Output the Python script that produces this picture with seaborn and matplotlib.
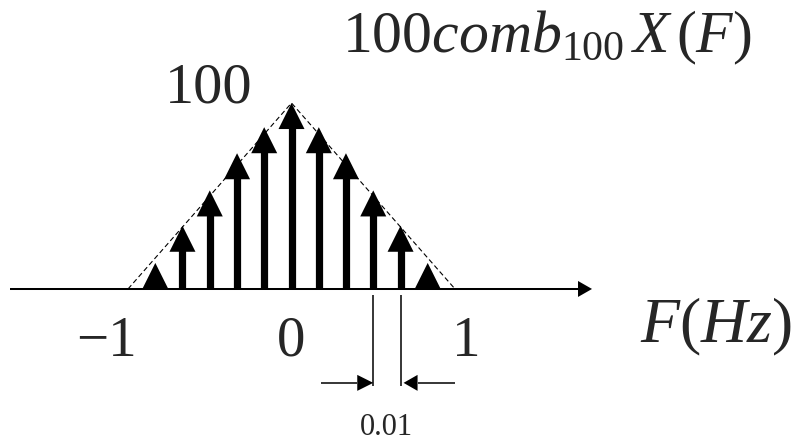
import numpy as np
import pandas as pd
import seaborn as sns
import matplotlib
matplotlib.use("Agg")
import matplotlib.pyplot as plt
from matplotlib.patches import Polygon

# Impulse train (sampled spectrum) and its triangular envelope
impulse_freq = [-0.833, -0.667, -0.5, -0.333, -0.167, 0.0, 0.167, 0.333, 0.5, 0.667, 0.833]
impulse_height = [14, 34, 53, 73, 87, 100, 87, 73, 53, 34, 14]
envelope_freq = [-1.0, 0.0, 1.0, -1.0]
envelope_height = [0, 100, 0, 0]
tick_values = [-1, 0, 1]
tick_labels = ["\u22121", "0", "1"]
peak_label = "100"
spacing_label = "0.01"
title_text = r"$100comb_{100}\,X\,(F)$"
axis_text = r"$F(Hz)$"

sns.set_theme(style="white")
plt.rcParams["font.family"] = ["Liberation Serif", "DejaVu Serif"]
plt.rcParams["mathtext.fontset"] = "custom"
plt.rcParams["mathtext.rm"] = "Liberation Serif"
plt.rcParams["mathtext.it"] = "Liberation Serif:italic"

fig = plt.figure(figsize=(7.99, 4.42), dpi=100)
ax = fig.add_axes([0, 0, 1, 1])
ax.set_xlim(-1.783, 3.104)
ax.set_ylim(-82.3, 155.4)
ax.axis("off")

# pixel -> data scale factors
px_x = 1 / 163.5
px_y = 1 / 1.86

def arrow(x0, x1, y, head_len, head_half, lw):
    direction = np.sign(x1 - x0)
    base = x1 - direction * head_len
    ax.plot([x0, base], [y, y], color="black", lw=lw, solid_capstyle="butt")
    ax.add_patch(Polygon([(base, y - head_half), (base, y + head_half), (x1, y)],
                         closed=True, color="black", lw=0))

# frequency axis
arrow(-1.722, 1.838, 0, 14 * px_x, 8 * px_y, 1.45)

# dashed triangular envelope
env = pd.DataFrame({"F": envelope_freq, "A": envelope_height})
sns.lineplot(data=env, x="F", y="A", sort=False, estimator=None, ax=ax,
             color="black", lw=0.8, linestyle=(0, (4.5, 2.7)))

# impulses: stems + filled arrow heads
head_h = 14
head_hw = 13 * px_x
for f, h in zip(impulse_freq, impulse_height):
    if h > head_h:
        ax.vlines(f, 0, h - head_h + 1, color="black", lw=5.2)
    ax.add_patch(Polygon([(f - head_hw, h - head_h), (f + head_hw, h - head_h), (f, h)],
                         closed=True, color="black", lw=0))

# spacing marker between two neighbouring impulses
fa, fb = impulse_freq[8], impulse_freq[9]
ax.vlines([fa, fb], -52, -3.5, color="black", lw=1.1)
arrow(fa - 52 * px_x, fa, -50.5, 16 * px_x, 8 * px_y, 1.1)
arrow(fb + 54 * px_x, fb + 3 * px_x, -50.5, 14 * px_x, 8 * px_y, 1.1)
ax.text((fa + fb) / 2, -78.3, spacing_label, ha="center", va="baseline", fontsize=22)

# tick labels
tick_shift = {-1: -0.13, 0: 0.0, 1: 0.067}
for v, lab in zip(tick_values, tick_labels):
    ax.text(v + tick_shift[v], -36, lab, ha="center", va="baseline", fontsize=41)

# annotations
ax.text(-0.509, 100.5, peak_label, ha="center", va="baseline", fontsize=42)
ax.text(0.309, 127.4, title_text, ha="left", va="baseline", fontsize=43)
ax.text(2.131, -28.5, axis_text, ha="left", va="baseline", fontsize=46)

fig.savefig("out.png", dpi=100)
